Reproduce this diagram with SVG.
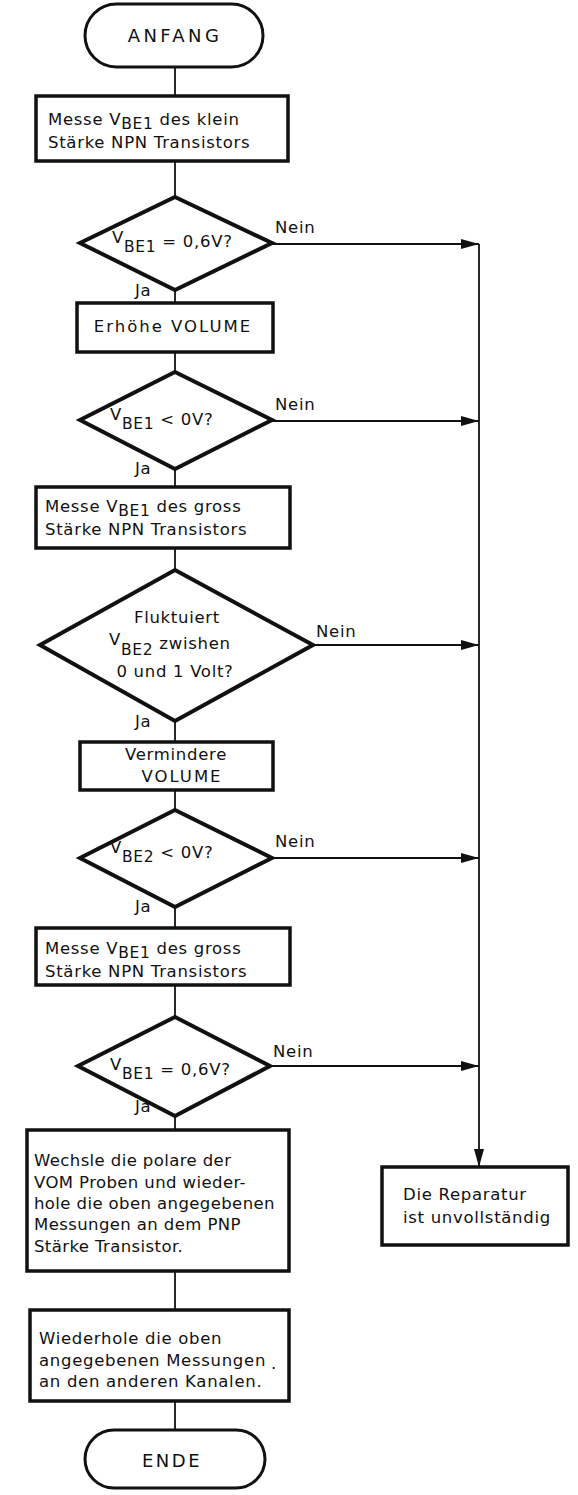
<svg xmlns="http://www.w3.org/2000/svg" width="578" height="1495" viewBox="0 0 578 1495">
  <style>
    .bg { fill: #ffffff; }
    .box { fill: #ffffff; stroke: #111111; stroke-width: 3.5; }
    .dia { fill: #ffffff; stroke: #111111; stroke-width: 4; stroke-linejoin: miter; }
    .term { fill: #ffffff; stroke: #111111; stroke-width: 3; }
    .wire { fill: none; stroke: #111111; stroke-width: 1.8; }
    .t { font-family: "DejaVu Sans", "Liberation Sans", sans-serif; font-size: 16.5px; letter-spacing: 0.7px; fill: #111111; }
    .sub { font-size: 15.5px; }
    .caps { letter-spacing: 2px; }
    .tight { letter-spacing: 0.4px; }
    .c { text-anchor: middle; }
    .big { font-size: 18px; letter-spacing: 2.5px; }
    .wide { letter-spacing: 3.4px; }
  </style>
  <defs>
    <marker id="arrow" viewBox="0 0 18 10" refX="18" refY="5" markerWidth="18" markerHeight="10" markerUnits="userSpaceOnUse" orient="auto">
      <path d="M0,0 L18,5 L0,10 Z" fill="#111111"/>
    </marker>
  </defs>
  <rect class="bg" x="0" y="0" width="578" height="1495"/>

  <!-- connectors -->
  <g id="connectors">
    <line class="wire" x1="175" y1="67" x2="175" y2="96"/>
    <line class="wire" x1="175" y1="161" x2="175" y2="197"/>
    <line class="wire" x1="175" y1="290" x2="175" y2="303"/>
    <line class="wire" x1="175" y1="352" x2="175" y2="372"/>
    <line class="wire" x1="175" y1="469" x2="175" y2="487"/>
    <line class="wire" x1="175" y1="548" x2="175" y2="570"/>
    <line class="wire" x1="175" y1="721" x2="175" y2="742"/>
    <line class="wire" x1="175" y1="790" x2="175" y2="810"/>
    <line class="wire" x1="175" y1="907" x2="175" y2="928"/>
    <line class="wire" x1="175" y1="985" x2="175" y2="1017"/>
    <line class="wire" x1="175" y1="1116" x2="175" y2="1130"/>
    <line class="wire" x1="175" y1="1271" x2="175" y2="1310"/>
    <line class="wire" x1="175" y1="1401" x2="175" y2="1430"/>
    <!-- "Nein" branches into the right-hand bus -->
    <line class="wire" x1="272" y1="244" x2="479" y2="244" marker-end="url(#arrow)"/>
    <line class="wire" x1="272" y1="421" x2="479" y2="421" marker-end="url(#arrow)"/>
    <line class="wire" x1="313" y1="645" x2="479" y2="645" marker-end="url(#arrow)"/>
    <line class="wire" x1="272" y1="858" x2="479" y2="858" marker-end="url(#arrow)"/>
    <line class="wire" x1="270" y1="1066" x2="479" y2="1066" marker-end="url(#arrow)"/>
    <line class="wire" x1="479" y1="244" x2="479" y2="1167" marker-end="url(#arrow)"/>
  </g>

  <g id="start">
    <rect class="term" x="85" y="4" width="178" height="63" rx="31.5" ry="31.5"/>
    <text class="t big wide c" x="175" y="42">ANFANG</text>
  </g>

  <g id="measure-small">
    <rect class="box" x="36" y="96" width="252" height="65"/>
    <text class="t" x="48" y="125">Messe V<tspan class="sub" dy="4">BE1</tspan><tspan dy="-4"> des klein</tspan></text>
    <text class="t" x="48" y="148">Stärke NPN Transistors</text>
  </g>

  <g id="check-vbe1-06">
    <polygon class="dia" points="175,197 272,243 175,290 80,243"/>
    <text class="t" x="112" y="243">V<tspan class="sub" dy="9">BE1</tspan><tspan dy="-5"> = 0,6V?</tspan></text>
    <text class="t" x="275" y="233">Nein</text>
    <text class="t" x="135" y="296">Ja</text>
  </g>

  <g id="raise-volume">
    <rect class="box" x="77" y="303" width="196" height="49"/>
    <text class="t caps c" x="173" y="332">Erhöhe VOLUME</text>
  </g>

  <g id="check-vbe1-neg">
    <polygon class="dia" points="175,372 272,420 175,469 80,420"/>
    <text class="t" x="110" y="420">V<tspan class="sub" dy="9">BE1</tspan><tspan dy="-4"> &lt; 0V?</tspan></text>
    <text class="t" x="275" y="410">Nein</text>
    <text class="t" x="135" y="474">Ja</text>
  </g>

  <g id="measure-large">
    <rect class="box" x="36" y="487" width="254" height="61"/>
    <text class="t" x="45" y="512">Messe V<tspan class="sub" dy="4">BE1</tspan><tspan dy="-4"> des gross</tspan></text>
    <text class="t" x="45" y="535">Stärke NPN Transistors</text>
  </g>

  <g id="check-fluctuation">
    <polygon class="dia" points="175,570 313,645 175,721 40,645"/>
    <text class="t c" x="177" y="623">Fluktuiert</text>
    <text class="t" x="109" y="645">V<tspan class="sub" dy="10">BE2</tspan><tspan dy="-6"> zwishen</tspan></text>
    <text class="t c" x="175" y="677">0 und 1 Volt?</text>
    <text class="t" x="316" y="637">Nein</text>
    <text class="t" x="135" y="727">Ja</text>
  </g>

  <g id="lower-volume">
    <rect class="box" x="80" y="742" width="193" height="48"/>
    <text class="t c" x="176" y="760">Vermindere</text>
    <text class="t caps c" x="182" y="782">VOLUME</text>
  </g>

  <g id="check-vbe2-neg">
    <polygon class="dia" points="175,810 272,858 175,907 80,858"/>
    <text class="t" x="110" y="853">V<tspan class="sub" dy="9">BE2</tspan><tspan dy="-4"> &lt; 0V?</tspan></text>
    <text class="t" x="275" y="847">Nein</text>
    <text class="t" x="135" y="912">Ja</text>
  </g>

  <g id="measure-large-again">
    <rect class="box" x="36" y="928" width="254" height="57"/>
    <text class="t" x="45" y="954">Messe V<tspan class="sub" dy="4">BE1</tspan><tspan dy="-4"> des gross</tspan></text>
    <text class="t" x="45" y="977">Stärke NPN Transistors</text>
  </g>

  <g id="check-vbe1-06-again">
    <polygon class="dia" points="175,1017 270,1066 175,1116 78,1066"/>
    <text class="t" x="110" y="1070">V<tspan class="sub" dy="9">BE1</tspan><tspan dy="-4"> = 0,6V?</tspan></text>
    <text class="t" x="273" y="1057">Nein</text>
    <text class="t" x="135" y="1112">Ja</text>
  </g>

  <g id="swap-probes">
    <rect class="box" x="27" y="1130" width="262" height="141"/>
    <text class="t tight" x="34" y="1166">Wechsle die polare der</text>
    <text class="t tight" x="34" y="1188">VOM Proben und wieder-</text>
    <text class="t tight" x="34" y="1209">hole die oben angegebenen</text>
    <text class="t tight" x="34" y="1230">Messungen an dem PNP</text>
    <text class="t tight" x="34" y="1252">Stärke Transistor.</text>
  </g>

  <g id="repeat-channels">
    <rect class="box" x="30" y="1310" width="259" height="91"/>
    <text class="t" x="39" y="1344">Wiederhole die oben</text>
    <text class="t" x="39" y="1366">angegebenen Messungen</text>
    <text class="t" x="271" y="1369">.</text>
    <text class="t" x="39" y="1387">an den anderen Kanalen.</text>
  </g>

  <g id="end">
    <rect class="term" x="85" y="1430" width="180" height="58" rx="29" ry="29"/>
    <text class="t big c" x="172" y="1467">ENDE</text>
  </g>

  <g id="incomplete">
    <rect class="box" x="382" y="1167" width="186" height="78"/>
    <text class="t" x="403" y="1200">Die Reparatur</text>
    <text class="t" x="403" y="1223">ist unvollständig</text>
  </g>
</svg>
